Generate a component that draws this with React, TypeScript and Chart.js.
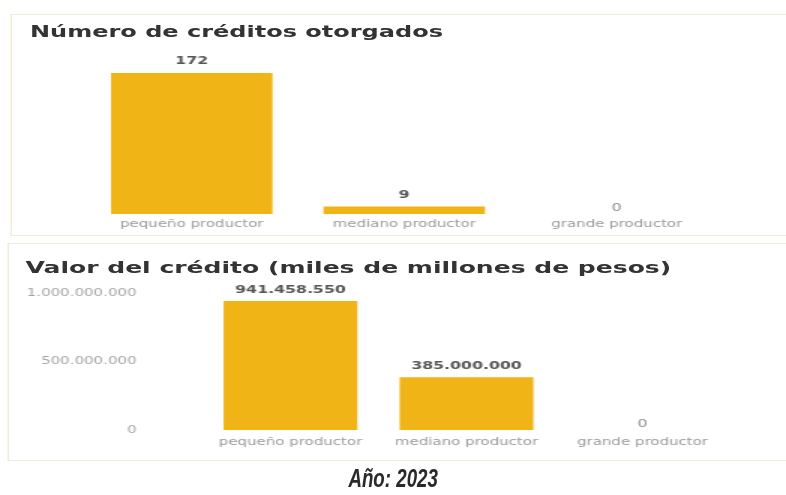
import React, { useEffect, useRef } from "react";
import { Chart, registerables } from "chart.js";

Chart.register(...registerables);

const categories = ["pequeño productor", "mediano productor", "grande productor"];
const creditCounts = [172, 9, 0];
const creditValues = [941458550, 385000000, 0];
const valueTicks = [0, 500000000, 1000000000];
const countTitle = "Número de créditos otorgados";
const valueTitle = "Valor del crédito (miles de millones de pesos)";
const caption = "Año: 2023";

const BAR = "#F1B416";
const STRETCH = 1.5;
const FONT = "'DejaVu Sans', Verdana, sans-serif";
const fmt = (n: number) => String(n).replace(/\B(?=(\d{3})+(?!\d))/g, ".");

const valueLabels = {
  id: "valueLabels",
  afterDatasetsDraw(chart: any) {
    const ctx = chart.ctx;
    const meta = chart.getDatasetMeta(0);
    const data = chart.data.datasets[0].data as number[];
    ctx.save();
    ctx.textAlign = "center";
    ctx.textBaseline = "bottom";
    meta.data.forEach((bar: any, i: number) => {
      const v = data[i];
      ctx.font = (v === 0 ? "" : "bold ") + "10.5px " + FONT;
      ctx.fillStyle = v === 0 ? "#8a8a8a" : "#555555";
      ctx.fillText(fmt(v), bar.x, v === 0 ? bar.y : bar.y - 6);
    });
    ctx.restore();
  },
};

function CountChart() {
  const ref = useRef<HTMLCanvasElement>(null);
  useEffect(() => {
    const chart = new Chart(ref.current!, {
      type: "bar",
      data: {
        labels: categories,
        datasets: [{ data: creditCounts, backgroundColor: BAR, barPercentage: 0.76, categoryPercentage: 1 }],
      },
      options: {
        animation: false,
        responsive: false,
        layout: { padding: { top: 10, left: 0, right: 0, bottom: 0 } },
        plugins: { legend: { display: false }, tooltip: { enabled: false } },
        scales: {
          x: {
            grid: { display: false, drawTicks: false },
            border: { display: false },
            ticks: { color: "#9a9a9a", font: { family: FONT, size: 10 }, padding: 4, maxRotation: 0 },
          },
          y: { display: false, min: 0, max: 200 },
        },
      },
      plugins: [valueLabels],
    });
    return () => chart.destroy();
  }, []);
  return <canvas ref={ref} width={425} height={194} style={{ position: "absolute", left: 57, top: 40, width: 425, height: 194 }} />;
}

function ValueChart() {
  const ref = useRef<HTMLCanvasElement>(null);
  useEffect(() => {
    const chart = new Chart(ref.current!, {
      type: "bar",
      data: {
        labels: categories,
        datasets: [{ data: creditValues, backgroundColor: BAR, barPercentage: 0.76, categoryPercentage: 1 }],
      },
      options: {
        animation: false,
        responsive: false,
        layout: { padding: { top: 23, left: 0, right: 0, bottom: 0 } },
        plugins: { legend: { display: false }, tooltip: { enabled: false } },
        scales: {
          x: {
            grid: { display: false, drawTicks: false },
            border: { display: false },
            ticks: { color: "#9a9a9a", font: { family: FONT, size: 10 }, padding: 6, maxRotation: 0 },
          },
          y: {
            min: 0,
            max: 1000000000,
            grid: { display: false, drawTicks: false },
            border: { display: false },
            afterBuildTicks: (s: any) => {
              s.ticks = valueTicks.map((v) => ({ value: v }));
            },
            afterFit: (s: any) => {
              s.width = 122;
              s.paddingTop = 0;
              s.paddingBottom = 0;
            },
            ticks: { color: "#a5a5a5", font: { family: FONT, size: 10 }, padding: 44, callback: (v: any) => fmt(Number(v)) },
          },
        },
      },
      plugins: [valueLabels],
    });
    return () => chart.destroy();
  }, []);
  return <canvas ref={ref} width={474} height={184} style={{ position: "absolute", left: 13, top: 270, width: 474, height: 184 }} />;
}

export default function App() {
  return (
    <div style={{ position: "fixed", left: 0, top: 0, width: 786, height: 495, background: "#fff", overflow: "hidden" }}>
      <div style={{ position: "absolute", left: 0, top: 0, width: 786 / STRETCH, height: 495, transform: `scaleX(${STRETCH})`, transformOrigin: "0 0" }}>
        <div style={{ position: "absolute", left: 7, top: 14, width: 520, height: 222, border: "1px solid #f2edd2", borderRightWidth: 0, boxSizing: "border-box" }} />
        <div style={{ position: "absolute", left: 5, top: 243, width: 520, height: 218, border: "1px solid #f2edd2", borderRightWidth: 0, boxSizing: "border-box" }} />
        <div style={{ position: "absolute", left: 20, top: 22, fontFamily: FONT, fontWeight: "bold", fontSize: 16, color: "#333", whiteSpace: "nowrap" }}>{countTitle}</div>
        <div style={{ position: "absolute", left: 17, top: 257, fontFamily: FONT, fontWeight: "bold", fontSize: 16.7, color: "#333", whiteSpace: "nowrap" }}>{valueTitle}</div>
        <CountChart />
        <ValueChart />
      </div>
      <div style={{ position: "absolute", left: 0, width: 786, top: 463, textAlign: "center" }}>
        <span style={{ display: "inline-block", fontFamily: "'Liberation Sans', Arial, sans-serif", fontWeight: "bold", fontStyle: "italic", fontSize: 26, color: "#2a2a2a", transform: "scaleX(0.72)" }}>{caption}</span>
      </div>
    </div>
  );
}
